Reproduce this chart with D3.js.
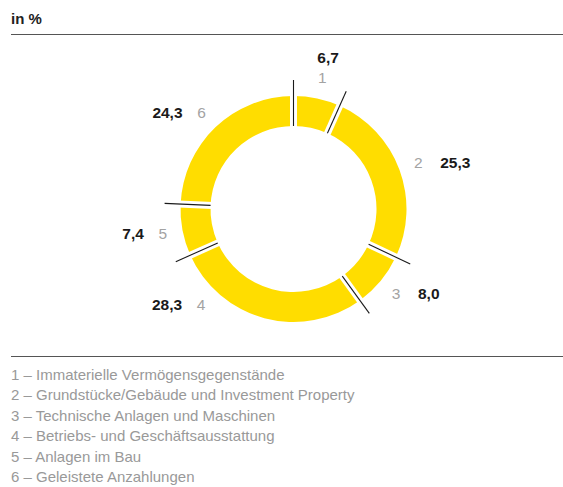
<!DOCTYPE html>
<html>
<head>
<meta charset="utf-8">
<script src="https://cdn.jsdelivr.net/npm/d3@7"></script>
<style>
  html, body { margin: 0; padding: 0; background: #fff; }
  svg { display: block; font-family: "Liberation Sans", Arial, Helvetica, sans-serif; }
</style>
</head>
<body>
<svg id="chart" width="563" height="487"></svg>
<script>
// Anlagevermögen nach Kategorien, Anteile in %
const categoryIds = [1, 2, 3, 4, 5, 6];
const categoryNames = [
  "Immaterielle Vermögensgegenstände",
  "Grundstücke/Gebäude und Investment Property",
  "Technische Anlagen und Maschinen",
  "Betriebs- und Geschäftsausstattung",
  "Anlagen im Bau",
  "Geleistete Anzahlungen"
];
const shares = [6.7, 25.3, 8.0, 28.3, 7.4, 24.3];
const unitLabel = "in %";

const fmt = v => d3.format(".1f")(v).replace(".", ",");

const svg = d3.select("#chart");
const W = 563;
const cx = 293.5, cy = 209;
const rInner = 83, rOuter = 113;
const yellow = "#ffdd00";

// Rules above and below the chart
svg.append("text").attr("x", 11).attr("y", 24)
  .attr("font-size", 15).attr("font-weight", "bold").attr("fill", "#222")
  .text(unitLabel);
svg.append("line").attr("x1", 11).attr("x2", W).attr("y1", 34.5).attr("y2", 34.5)
  .attr("stroke", "#555").attr("stroke-width", 1);
svg.append("line").attr("x1", 11).attr("x2", W).attr("y1", 356.5).attr("y2", 356.5)
  .attr("stroke", "#555").attr("stroke-width", 1);

const data = categoryIds.map((id, i) => ({ id, value: shares[i] }));
const pie = d3.pie().value(d => d.value).sort(null).startAngle(0).endAngle(2 * Math.PI);
const arcs = pie(data);
const arc = d3.arc().innerRadius(rInner).outerRadius(rOuter);

const g = svg.append("g").attr("transform", `translate(${cx},${cy})`);

g.selectAll("path.slice").data(arcs).join("path")
  .attr("class", "slice")
  .attr("d", arc)
  .attr("fill", yellow);

// Separators at each slice boundary: white gap with a thin dark rule through it
const pt = (a, r) => [Math.sin(a) * r, -Math.cos(a) * r];
const bounds = arcs.map(a => a.startAngle);
g.selectAll("line.gap").data(bounds).join("line")
  .attr("class", "gap")
  .attr("x1", a => pt(a, rInner - 2)[0]).attr("y1", a => pt(a, rInner - 2)[1])
  .attr("x2", a => pt(a, rOuter + 2)[0]).attr("y2", a => pt(a, rOuter + 2)[1])
  .attr("stroke", "#fff").attr("stroke-width", 7);
g.selectAll("line.sep").data(bounds).join("line")
  .attr("class", "sep")
  .attr("x1", a => pt(a, rInner)[0]).attr("y1", a => pt(a, rInner)[1])
  .attr("x2", a => pt(a, 129)[0]).attr("y2", a => pt(a, 129)[1])
  .attr("stroke", "#1a1a1a").attr("stroke-width", 1.1);

// Labels: category number (grey) and share (bold) around the ring
const labelR = 133;
const angleOverride = { 4: 224 * Math.PI / 180 };
const labels = g.selectAll("g.lab").data(arcs).join("g").attr("class", "lab");
labels.each(function(d) {
  const a = angleOverride[d.data.id] ?? (d.startAngle + d.endAngle) / 2;
  const [x, y] = pt(a, labelR);
  const sel = d3.select(this);
  const num = sel.append("text").attr("font-size", 15.5).attr("fill", "#a3a3a3")
    .attr("text-anchor", "middle").attr("x", x).attr("y", y + 5).text(d.data.id);
  const val = sel.append("text").attr("font-size", 15.5).attr("font-weight", "bold").attr("fill", "#1a1a1a")
    .text(fmt(d.data.value));
  if (d.data.id === 1) {
    num.attr("x", x + 1).attr("y", y + 4);
    val.attr("text-anchor", "start").attr("x", x - 4).attr("y", y - 16);
  } else if (x > 0) {
    val.attr("text-anchor", "start").attr("x", x + 22).attr("y", y + 5);
  } else {
    val.attr("text-anchor", "end").attr("x", x - 19).attr("y", y + 5);
  }
});

// Legend
svg.append("g").selectAll("text").data(categoryIds).join("text")
  .attr("x", 11)
  .attr("y", (d, i) => 380 + i * 20.4)
  .attr("font-size", 15)
  .attr("fill", "#999")
  .text((d, i) => `${d} – ${categoryNames[i]}`);
</script>
</body>
</html>
